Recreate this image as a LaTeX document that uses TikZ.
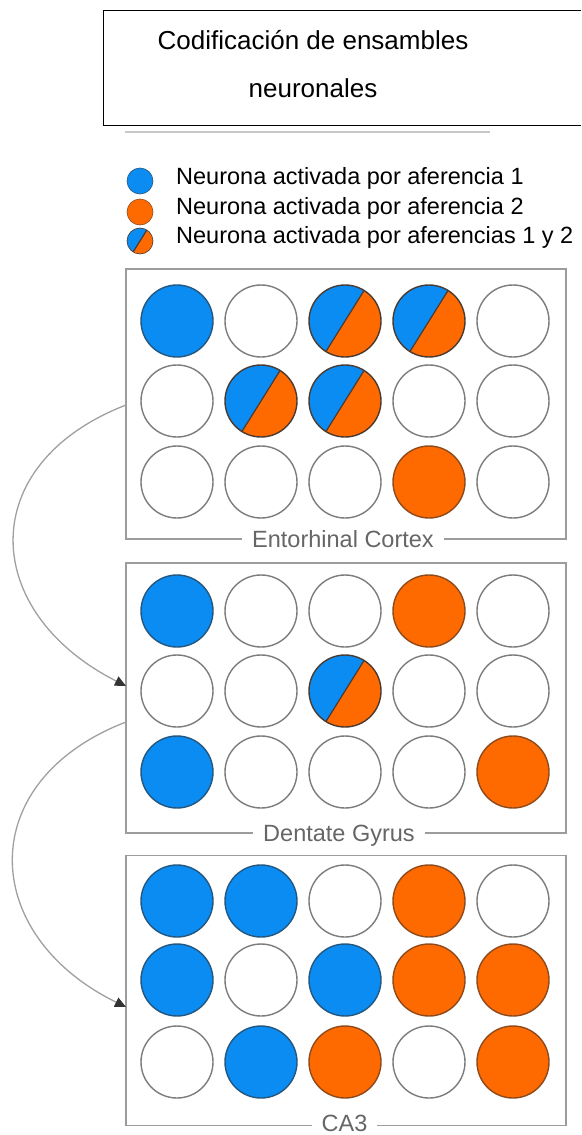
\documentclass[tikz,border=0pt]{standalone}
\usepackage{fontspec}
\setmainfont{Liberation Sans}
\usetikzlibrary{arrows.meta,calc}

\definecolor{nBlue}{HTML}{0A8CF2}
\definecolor{nOrange}{HTML}{FF6A00}
\definecolor{nBlueEdge}{HTML}{24577F}
\definecolor{nOrangeEdge}{HTML}{8E4A1C}
\definecolor{nSplitEdge}{HTML}{4A3A30}
\definecolor{emptyEdge}{HTML}{7C7C7C}
\definecolor{frameGray}{HTML}{9C9C9C}
\definecolor{labelGray}{HTML}{666666}
\definecolor{connGray}{HTML}{A0A0A0}
\definecolor{tipGray}{HTML}{333333}

% one row of five neurons: prefix, row number, y position, list of styles
\newcommand{\cellrow}[4]{%
  \foreach \t [count=\i] in {#4}
    \node[\t] (#1-#2-\i) at ({177+84*(\i-1)},#3) {};%
}

\begin{document}
\begin{tikzpicture}[x=1pt,y=-1pt,
  neuron/.style={circle,inner sep=0pt,minimum size=72pt,line width=1.4pt},
  nE/.style={neuron,draw=emptyEdge,fill=white},
  nB/.style={neuron,draw=nBlueEdge,fill=nBlue},
  nO/.style={neuron,draw=nOrangeEdge,fill=nOrange},
  % y axis points down, so the angles below run clockwise on the page
  halves/.style={fill=nOrange,
    path picture={
      \fill[nBlue] ($(path picture bounding box.center)+(-58:100)$)
        -- ($(path picture bounding box.center)+(-148:100)$)
        -- ($(path picture bounding box.center)+(-238:100)$) -- cycle;
      \draw[nSplitEdge,line width=1.2pt]
        ($(path picture bounding box.center)+(-58:100)$)
        -- ($(path picture bounding box.center)+(-238:100)$);
    }},
  nS/.style={neuron,draw=nSplitEdge,halves},
  keydot/.style={circle,inner sep=0pt,minimum size=26pt,line width=0.6pt},
  keytext/.style={anchor=base west,font=\fontsize{23.5}{28}\selectfont,inner sep=0pt},
  panel/.style={draw=frameGray,line width=1.5pt,rectangle,inner sep=0pt,
    minimum width=440pt,minimum height=270pt},
  region/.style={anchor=base,fill=white,text=labelGray,inner xsep=10pt,
    inner ysep=0pt,font=\fontsize{23.5}{28}\selectfont},
  conn/.style={draw=connGray,line width=1.3pt,
    -{Triangle[length=11pt,width=10pt,color=tipGray]}},
  titletext/.style={anchor=base,font=\fontsize{26}{30}\selectfont,inner sep=0pt}
]
\useasboundingbox[fill=white] (0,0) rectangle (581,1135);

% title box, open at the right border
\draw[black,line width=1pt] (581,10) -- (103,10) -- (103,125) -- (581,125);
\node[titletext] (title1) at (313,49) {Codificación de ensambles};
\node[titletext] (title2) at (313,97) {neuronales};
\draw[black!22,line width=2pt] (125,132) -- (490,132);

% legend
\node[keydot,draw=nBlueEdge,fill=nBlue] (key1) at (140,181) {};
\node[keydot,draw=nOrangeEdge,fill=nOrange] (key2) at (140,212) {};
\node[keydot,draw=nSplitEdge,halves] (key3) at (140,241) {};
\node[keytext] (keyt1) at (176,184) {Neurona activada por aferencia 1};
\node[keytext] (keyt2) at (176,214) {Neurona activada por aferencia 2};
\node[keytext] (keyt3) at (176,243) {Neurona activada por aferencias 1 y 2};

% region frames
\node[panel] (ec) at (346,404) {};
\node[panel] (dg) at (346,698) {};
\node[panel] (ca) at (346,990.5) {};

% entorhinal cortex
\cellrow{ec}{1}{321}{nB,nE,nS,nS,nE}
\cellrow{ec}{2}{401}{nE,nS,nS,nE,nE}
\cellrow{ec}{3}{482}{nE,nE,nE,nO,nE}
\node[region] (ecl) at (343,547) {Entorhinal Cortex};

% dentate gyrus
\cellrow{dg}{1}{611}{nB,nE,nE,nO,nE}
\cellrow{dg}{2}{691}{nE,nE,nS,nE,nE}
\cellrow{dg}{3}{772}{nB,nE,nE,nE,nO}
\node[region] (dgl) at (339,841) {Dentate Gyrus};

% CA3
\cellrow{ca}{1}{901}{nB,nB,nE,nO,nE}
\cellrow{ca}{2}{980}{nB,nE,nB,nO,nO}
\cellrow{ca}{3}{1062}{nE,nB,nO,nE,nO}
\node[region] (cal) at (344.5,1131) {CA3};

% projections between regions
\coordinate (ec-out) at (126,405);
\coordinate (dg-in)  at (126,686);
\coordinate (dg-out) at (126,722);
\coordinate (ca-in)  at (126,1007);
\draw[conn] (ec-out) .. controls (-26,464) and (-20,612) .. (dg-in);
\draw[conn] (dg-out) .. controls (-27,781) and (-21,935) .. (ca-in);
\end{tikzpicture}
\end{document}
